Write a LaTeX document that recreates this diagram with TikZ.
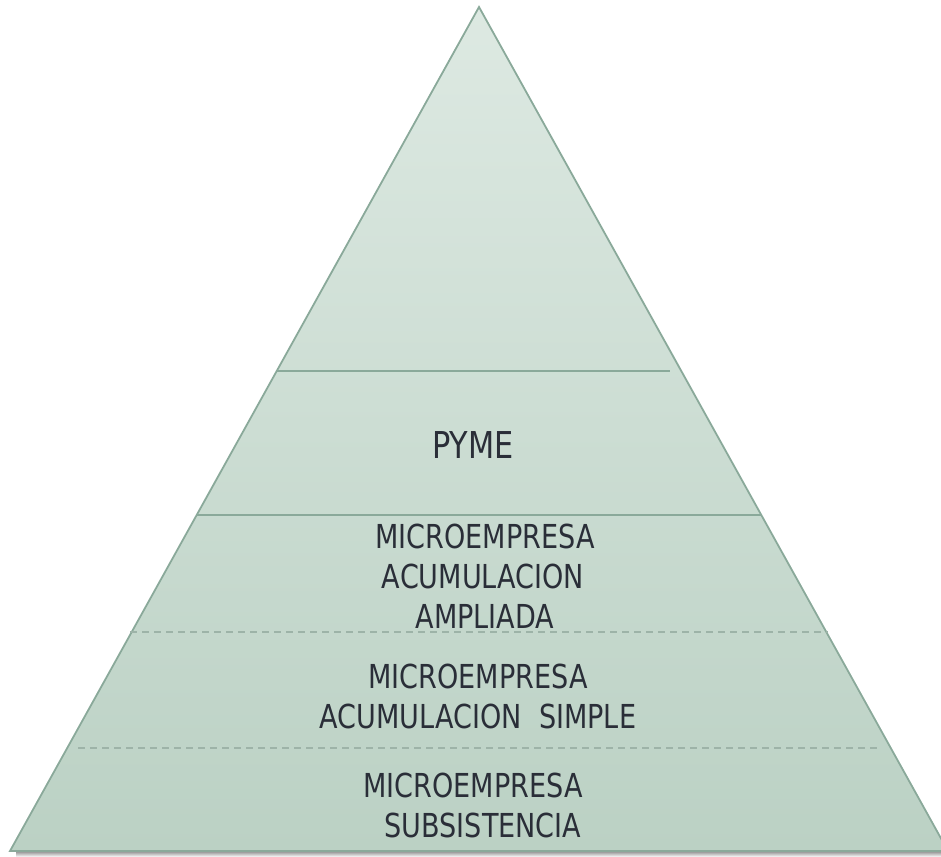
\documentclass[tikz,border=0pt]{standalone}
\usepackage{fontspec}
\setmainfont{DejaVu Sans}[FakeStretch=0.82]
\usetikzlibrary{calc}

\definecolor{edgegreen}{HTML}{8AA99A}
\definecolor{tiertop}{HTML}{DDE9E2}
\definecolor{tierbottom}{HTML}{BBD1C4}
\definecolor{dashgreen}{HTML}{9DB3A8}
\definecolor{labeltext}{HTML}{2A2E38}

\tikzset{
  tierline/.style={draw=edgegreen, line width=1.8pt},
  tierdash/.style={draw=dashgreen, line width=1.8pt, dash pattern=on 7pt off 5pt},
  tierlabel/.style={anchor=base, inner sep=0pt, text=labeltext,
    font=\fontsize{33}{40}\selectfont},
  toplabel/.style={tierlabel, font=\fontsize{37}{44}\selectfont},
}

\begin{document}
\begin{tikzpicture}[x=1pt, y=-1pt]
  \useasboundingbox (0,0) rectangle (941,856);

  % corners of the pyramid
  \coordinate (apex) at (479,7);
  \coordinate (bl) at (10,851);
  \coordinate (br) at (948,851);

  % soft shadow under the base
  \shade[top color=black!45, bottom color=white] (16,851) rectangle (941,857);

  % pyramid body
  \shade[top color=tiertop, bottom color=tierbottom] (apex) -- (br) -- (bl) -- cycle;
  \draw[edgegreen, line width=1.8pt, line join=miter] (apex) -- (br) -- (bl) -- cycle;

  % tier separators
  \coordinate (s1l) at (277,371); \coordinate (s1r) at (670,371);
  \coordinate (s2l) at (197,515); \coordinate (s2r) at (762,515);
  \coordinate (s3l) at (130,632); \coordinate (s3r) at (828,632);
  \coordinate (s4l) at (78,748);  \coordinate (s4r) at (877,748);
  \draw[tierline] (s1l) -- (s1r);
  \draw[tierline] (s2l) -- (s2r);
  \draw[tierdash] (s3l) -- (s3r);
  \draw[tierdash] (s4l) -- (s4r);

  % tier labels
  \node[toplabel] (pyme) at (473,458) {PYME};

  \node[tierlabel] (ampA) at (485,548) {MICROEMPRESA};
  \node[tierlabel] (ampB) at (483,588) {ACUMULACION};
  \node[tierlabel] (ampC) at (485,628) {AMPLIADA};

  \node[tierlabel] (simA) at (478,688) {MICROEMPRESA};
  \node[tierlabel] (simB) at (478,728) {ACUMULACION\ \ SIMPLE};

  \node[tierlabel] (subA) at (473,797) {MICROEMPRESA};
  \node[tierlabel] (subB) at (483,837) {SUBSISTENCIA};
\end{tikzpicture}
\end{document}
